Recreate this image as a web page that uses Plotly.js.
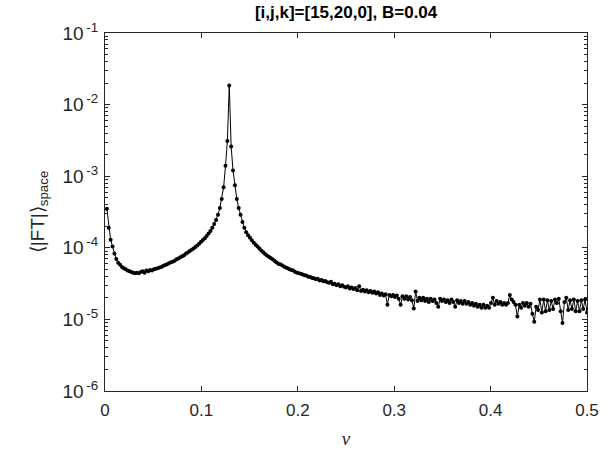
<!DOCTYPE html>
<html>
<head>
<meta charset="utf-8">
<script src="https://cdn.plot.ly/plotly-3.0.1.min.js"></script>
<style>html,body{margin:0;padding:0;background:#fff;}#chart{width:612px;height:452px;}</style>
</head>
<body>
<div id="chart"></div>
<script>
// Frequency grid index: nu = k / 512, k = 1..256
const nSamples = 512;
const kFirst = 1;

// <|FT|>_space values, in order of k
const ftLeft = [
  3.5e-4, 1.9e-4, 1.3e-4, 1.04e-4, 8.3e-5, 7.0e-5, 6.2e-5, 5.8e-5, 5.4e-5, 5.2e-5,
  5.0e-5, 4.8e-5, 4.7e-5, 4.6e-5, 4.5e-5, 4.4e-5, 4.5e-5, 4.4e-5, 4.6e-5, 4.7e-5,
  4.5e-5, 4.8e-5, 4.7e-5, 4.9e-5, 4.8e-5, 5.0e-5, 5.1e-5, 5.2e-5, 5.3e-5, 5.4e-5,
  5.6e-5, 5.75e-5, 5.9e-5, 6.1e-5, 6.3e-5, 6.4e-5, 6.6e-5, 6.9e-5, 7.1e-5, 7.4e-5,
  7.6e-5, 7.9e-5, 8.3e-5, 8.6e-5, 9.0e-5, 9.4e-5, 9.8e-5, 1.03e-4, 1.08e-4, 1.14e-4,
  1.21e-4, 1.28e-4, 1.36e-4, 1.46e-4, 1.58e-4, 1.72e-4, 1.9e-4, 2.15e-4, 2.45e-4, 2.9e-4,
  3.6e-4, 4.8e-4, 7.0e-4, 1.4e-3, 3.1e-3
];
const ftPeak = [1.85e-2];
const ftRight = [
  2.6e-3, 1.2e-3, 7.5e-4, 4.8e-4, 3.6e-4, 2.9e-4, 2.3e-4, 1.9e-4, 1.65e-4, 1.5e-4,
  1.38e-4, 1.27e-4, 1.18e-4, 1.1e-4, 1.04e-4, 9.8e-5, 9.2e-5, 8.7e-5, 8.2e-5, 7.8e-5,
  7.5e-5, 7.2e-5, 6.9e-5, 6.6e-5, 6.3e-5, 6.0e-5, 5.9e-5, 5.7e-5, 5.5e-5, 5.3e-5,
  5.2e-5, 5.0e-5, 4.9e-5, 4.8e-5, 4.6e-5, 4.5e-5, 4.4e-5, 4.35e-5, 4.25e-5, 4.15e-5,
  4.1e-5, 3.95e-5, 3.9e-5, 3.8e-5, 3.75e-5, 3.65e-5, 3.7e-5, 3.5e-5, 3.55e-5, 3.4e-5,
  3.45e-5, 3.3e-5, 3.25e-5, 3.35e-5, 3.1e-5, 3.15e-5, 3.0e-5, 3.1e-5, 2.9e-5, 3.0e-5,
  2.85e-5, 2.8e-5, 2.9e-5, 2.7e-5, 2.8e-5, 2.65e-5, 2.75e-5, 2.55e-5, 2.9e-5, 2.5e-5,
  2.6e-5, 2.45e-5, 2.55e-5, 2.4e-5, 2.5e-5, 2.35e-5, 2.45e-5, 2.3e-5, 2.4e-5, 2.2e-5,
  2.3e-5, 2.15e-5, 2.25e-5, 1.6e-5, 2.2e-5, 2.1e-5, 2.2e-5, 2.05e-5, 2.15e-5, 1.95e-5,
  1.6e-5, 2.1e-5, 1.95e-5, 2.1e-5, 1.9e-5, 2.05e-5, 1.85e-5, 1.42e-5, 2.45e-5, 1.8e-5,
  2.0e-5, 1.85e-5, 2.0e-5, 1.8e-5, 1.95e-5, 1.75e-5, 1.95e-5, 1.8e-5, 1.9e-5, 1.7e-5,
  1.5e-5, 1.95e-5, 1.8e-5, 1.9e-5, 1.75e-5, 1.85e-5, 1.7e-5, 1.9e-5, 1.75e-5, 1.5e-5,
  1.85e-5, 1.7e-5, 1.8e-5, 1.65e-5, 1.8e-5, 1.65e-5, 1.75e-5, 1.6e-5, 1.7e-5, 1.55e-5,
  1.65e-5, 1.5e-5, 1.6e-5, 1.45e-5, 1.6e-5, 1.45e-5, 1.55e-5, 1.45e-5, 1.7e-5, 2.0e-5,
  1.6e-5, 1.8e-5, 1.65e-5, 1.75e-5, 1.6e-5, 1.7e-5, 1.6e-5, 1.7e-5, 2.2e-5, 1.9e-5,
  1.75e-5, 1.6e-5, 1.1e-5, 1.6e-5, 1.45e-5, 1.7e-5, 1.55e-5, 1.7e-5, 1.5e-5, 1.65e-5,
  1.2e-5, 9.3e-6, 1.5e-5, 1.35e-5, 1.9e-5, 1.25e-5, 1.9e-5, 1.3e-5, 1.85e-5, 1.35e-5,
  1.8e-5, 1.4e-5, 1.9e-5, 1.7e-5, 1.95e-5, 1.3e-5, 8.9e-6, 1.75e-5, 2.0e-5, 1.35e-5,
  1.85e-5, 1.4e-5, 1.9e-5, 1.3e-5, 1.8e-5, 1.3e-5, 1.85e-5, 1.4e-5, 1.9e-5, 1.25e-5
];

const xTickVals = [0, 0.1, 0.2, 0.3, 0.4, 0.5];
const xTickText = ['0', '0.1', '0.2', '0.3', '0.4', '0.5'];
const yTickVals = [1e-6, 1e-5, 1e-4, 1e-3, 1e-2, 1e-1];
const yTickText = ['10<sup>\u2009-6</sup>', '10<sup>\u2009-5</sup>', '10<sup>\u2009-4</sup>', '10<sup>\u2009-3</sup>', '10<sup>\u2009-2</sup>', '10<sup>\u2009-1</sup>'];

const ftValues = ftLeft.concat(ftPeak, ftRight);
const nu = ftValues.map((_, i) => (i + kFirst) / nSamples);

// minor tick positions (2..9 within each decade)
const yMinor = [];
for (let e = -6; e < -1; e++) for (let m = 2; m <= 9; m++) yMinor.push(m * Math.pow(10, e));

const axisColor = '#262626';
const fontFam = 'Liberation Sans, Arial, sans-serif';

const trace = {
  x: nu, y: ftValues, type: 'scatter', mode: 'lines+markers',
  line: {color: '#000', width: 1},
  marker: {color: '#000', size: 4},
  hoverinfo: 'skip'
};

const layout = {
  width: 612, height: 452,
  margin: {l: 104.5, r: 24.5, t: 33, b: 61},
  paper_bgcolor: '#fff', plot_bgcolor: '#fff',
  showlegend: false,
  title: {
    text: '<b>[i,j,k]=[15,20,0], B=0.04</b>',
    font: {family: fontFam, size: 17, color: '#000'},
    x: 0.5655, xanchor: 'center', xref: 'container',
    y: 0.973, yanchor: 'middle', yref: 'container'
  },
  xaxis: {
    range: [0, 0.5], tickmode: 'array', tickvals: xTickVals, ticktext: xTickText,
    ticks: 'inside', ticklen: 5, tickwidth: 1, tickcolor: axisColor,
    showline: true, linecolor: axisColor, linewidth: 1, mirror: 'ticks',
    showgrid: false, zeroline: false, ticklabelstandoff: 4,
    tickfont: {family: fontFam, size: 17, color: axisColor},
    title: {text: '<i>ν</i>', font: {family: 'Liberation Serif, Times New Roman, serif', size: 19, color: axisColor}, standoff: 12}
  },
  yaxis: {
    type: 'log', range: [-6, -1], tickmode: 'array', tickvals: yTickVals, ticktext: yTickText,
    ticks: 'inside', ticklen: 5, tickwidth: 1, tickcolor: axisColor,
    showline: true, linecolor: axisColor, linewidth: 1, mirror: 'ticks',
    showgrid: false, zeroline: false, ticklabelstandoff: 2,
    tickfont: {family: fontFam, size: 19, color: axisColor},
    minor: {tickmode: 'array', tickvals: yMinor, ticks: 'inside', ticklen: 3, tickcolor: axisColor, showgrid: false},
    title: {text: '⟨|FT|⟩<sub>space</sub>', font: {family: fontFam, size: 19, color: axisColor}, standoff: 12}
  }
};

Plotly.newPlot('chart', [trace], layout, {displayModeBar: false, staticPlot: true});
</script>
</body>
</html>
